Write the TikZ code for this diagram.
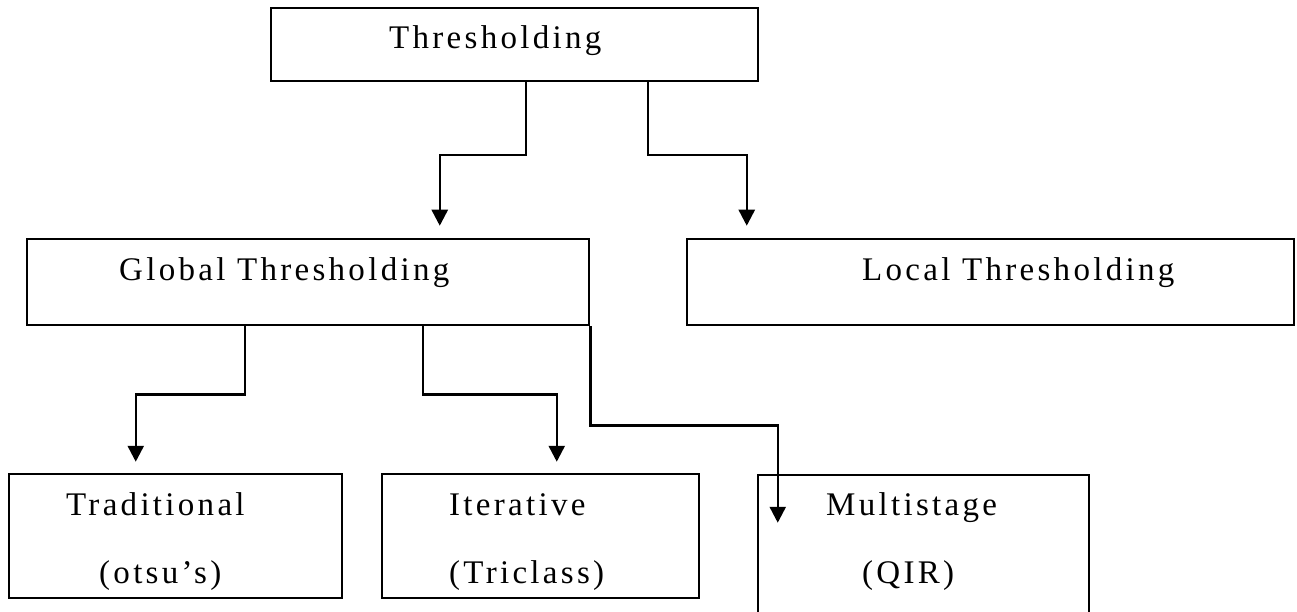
\documentclass[tikz,border=0pt]{standalone}
\usepackage{fontspec}
\setmainfont{Liberation Serif}
\newfontfamily\lblfont[LetterSpace=10]{Liberation Serif}
\usetikzlibrary{arrows.meta}
\begin{document}
\begin{tikzpicture}[x=1pt,y=-1pt,
  box/.style={draw=black,line width=2.5pt,rectangle,inner sep=0pt},
  lbl/.style={anchor=base west,inner sep=0pt,font=\lblfont\fontsize{33}{40}\selectfont},
  arr/.style={draw=black,line width=2.5pt,-{Triangle[width=16pt,length=16pt]}}]
\clip (0,0) rectangle (1297,612);
\fill[white] (0,0) rectangle (1297,612);
% boxes
\node[box,minimum width=487pt,minimum height=73pt] (top) at (514.5,44.5) {};
\node[box,minimum width=562pt,minimum height=86pt] (global) at (308,282) {};
\node[box,minimum width=607pt,minimum height=86pt] (local) at (990.5,282) {};
\node[box,minimum width=333pt,minimum height=124pt] (trad) at (175.5,536) {};
\node[box,minimum width=317pt,minimum height=124pt] (iter) at (540.5,536) {};
\node[box,minimum width=331pt,minimum height=170pt] (multi) at (923.5,560) {};
% labels
\node[lbl] (topT) at (389,49) {Thresholding};
\node[lbl] (globalT) at (119,280) {Global Thresholding};
\node[lbl] (localT) at (862,280) {Local Thresholding};
\node[lbl] (tradT) at (66,515) {Traditional};
\node[lbl] (tradS) at (99,583) {(otsu’s)};
\node[lbl] (iterT) at (449,515) {Iterative};
\node[lbl] (iterS) at (449,583) {(Triclass)};
\node[lbl] (multiT) at (826,515) {Multistage};
\node[lbl] (multiS) at (862,583) {(QIR)};
% connectors
\draw[arr,shorten >=12pt] ([xshift=256pt]top.south west) -- ++(0,73) -| ([xshift=414pt]global.north west);
\draw[arr,shorten >=12pt] ([xshift=378pt]top.south west) -- ++(0,73) -| ([xshift=61pt]local.north west);
\draw[arr,shorten >=11pt] ([xshift=219pt]global.south west) -- ++(0,68) -| ([xshift=128pt]trad.north west);
\draw[arr,shorten >=11pt] ([xshift=397pt]global.south west) -- ++(0,68) -| ([xshift=176pt]iter.north west);
\draw[arr] (global.south east) -- ++(0,99) -| ([xshift=21pt,yshift=-49pt]multi.north west);
\end{tikzpicture}
\end{document}
